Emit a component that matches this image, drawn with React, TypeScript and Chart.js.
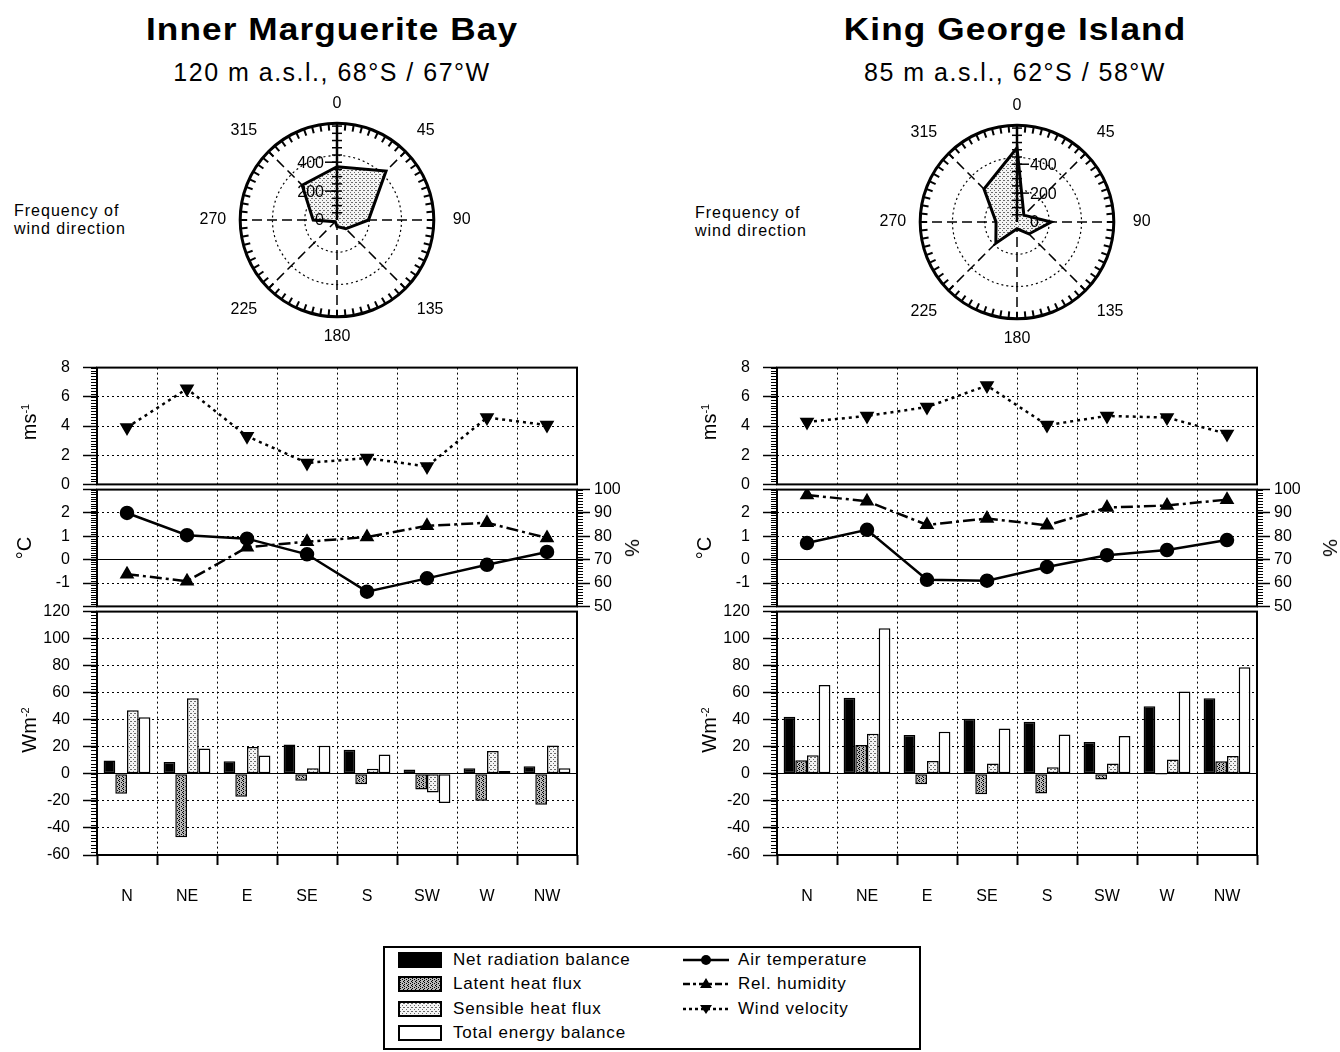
import React, { useEffect, useRef } from 'react';
import { Chart, registerables } from 'chart.js';

Chart.register(...registerables);

const FONT = "'Liberation Sans', Arial, Helvetica, sans-serif";
Chart.defaults.font.family = FONT;
Chart.defaults.font.size = 16;
Chart.defaults.color = '#000';

// ---------- data ----------
const directions = ['N', 'NE', 'E', 'SE', 'S', 'SW', 'W', 'NW'];
const radarLabels = ['0', '45', '90', '135', '180', '225', '270', '315'];
const radarTickLabels = [0, 200, 400];
const radarMax = 670;

// Inner Marguerite Bay
const imbFreq = [369, 480, 218, 86, 45, 17, 165, 341];
const imbWind = [3.9, 6.55, 3.3, 1.47, 1.8, 1.23, 4.58, 4.06];
const imbTemp = [2.0, 1.05, 0.9, 0.23, -1.37, -0.8, -0.22, 0.33];
const imbHum = [63.8, 60.8, 75.3, 77.7, 79.7, 84.5, 85.8, 79.3];
const imbNet = [9.8, 8.8, 9.3, 21.8, 17.9, 3.2, 4.2, 5.6];
const imbLatent = [-14.7, -46.8, -16.9, -5.1, -7.6, -11.5, -19.8, -22.8];
const imbSensible = [47, 56, 19.8, 4.2, 3.7, -13.7, 16.9, 21];
const imbTotal = [41.9, 18.8, 13.5, 20.8, 14.4, -21.5, 2.2, 4.2];

// King George Island
const kgiFreq = [514, 67, 237, 117, 47, 207, 145, 323];
const kgiWind = [4.28, 4.69, 5.3, 6.77, 4.06, 4.69, 4.58, 3.46];
const kgiTemp = [0.71, 1.28, -0.86, -0.9, -0.31, 0.19, 0.41, 0.84];
const kgiHum = [97.7, 95, 84.9, 87.6, 84.7, 92.3, 93.2, 95.7];
const kgiNet = [42.2, 56.2, 28.7, 40.7, 38.5, 23.6, 50, 56];
const kgiLatent = [10, 21.3, -7.6, -15, -14.5, -4.2, -0.7, 9.3];
const kgiSensible = [13.7, 29.7, 9.6, 7.6, 4.9, 7.6, 10.6, 13.2];
const kgiTotal = [65.8, 107.7, 31.2, 33.6, 29.2, 28, 60.9, 78.8];

const barLegendLabels = ['Net radiation balance', 'Latent heat flux', 'Sensible heat flux', 'Total energy balance'];
const lineLegendLabels = ['Air temperature', 'Rel. humidity', 'Wind velocity'];

// ---------- patterns ----------
let tiles: Record<string, HTMLCanvasElement> | null = null;
function getTiles() {
  if (!tiles) {
    const mk = (bg: string, dot: string, pts: number[][]) => {
      const c = document.createElement('canvas');
      c.width = 4;
      c.height = 4;
      const g = c.getContext('2d')!;
      g.fillStyle = bg;
      g.fillRect(0, 0, 4, 4);
      g.fillStyle = dot;
      pts.forEach(([x, y]) => g.fillRect(x, y, 1, 1));
      return c;
    };
    tiles = {
      latent: mk('#b8b8b8', '#000', [[0, 0], [2, 1], [0, 2], [3, 3]]),
      sensible: mk('#f4f4f4', '#6a6a6a', [[0, 0], [2, 2], [3, 0]]),
    };
  }
  return tiles;
}
function pattern(kind: string): any {
  const ctx = document.createElement('canvas').getContext('2d')!;
  return ctx.createPattern(getTiles()[kind], 'repeat');
}
function tileUrl(kind: string) {
  return getTiles()[kind].toDataURL();
}

// ---------- plugins ----------
const framePlugin = {
  id: 'frame',
  afterDraw(chart: any) {
    const { ctx, chartArea: a } = chart;
    ctx.save();
    ctx.strokeStyle = '#000';
    ctx.lineWidth = 2;
    ctx.setLineDash([]);
    ctx.strokeRect(a.left, a.top, a.right - a.left, a.bottom - a.top);
    ctx.restore();
  },
};

const minorTicksPlugin = {
  id: 'minorTicks',
  afterDraw(chart: any, _args: any, opts: any) {
    const ctx = chart.ctx;
    const steps = (opts && opts.steps) || {};
    ctx.save();
    ctx.strokeStyle = '#000';
    ctx.lineWidth = 1;
    ctx.setLineDash([]);
    Object.keys(steps).forEach((id) => {
      const s = chart.scales[id];
      if (!s) return;
      const step = steps[id];
      const left = s.position === 'left';
      const x0 = left ? s.right : s.left;
      const dir = left ? -1 : 1;
      const n = Math.round((s.max - s.min) / step);
      for (let i = 0; i <= n; i++) {
        const y = Math.round(s.getPixelForValue(s.min + i * step)) + 0.5;
        ctx.beginPath();
        ctx.moveTo(x0, y);
        ctx.lineTo(x0 + dir * 6, y);
        ctx.stroke();
      }
    });
    ctx.restore();
  },
};

const radarDecoPlugin = {
  id: 'radarDeco',
  afterDatasetsDraw(chart: any, _args: any, opts: any) {
    const s = chart.scales.r;
    const ctx = chart.ctx;
    const cx = s.xCenter;
    const cy = s.yCenter;
    const R = s.getDistanceFromCenterForValue(s.max);
    ctx.save();
    ctx.strokeStyle = '#000';
    ctx.setLineDash([]);
    ctx.lineWidth = 2;
    for (let a = 0; a < 360; a += 5) {
      const t = ((a - 90) * Math.PI) / 180;
      ctx.beginPath();
      ctx.moveTo(cx + Math.cos(t) * (R - 7), cy + Math.sin(t) * (R - 7));
      ctx.lineTo(cx + Math.cos(t) * R, cy + Math.sin(t) * R);
      ctx.stroke();
    }
    // north ruler
    ctx.lineWidth = 2.5;
    ctx.beginPath();
    ctx.moveTo(cx, cy);
    ctx.lineTo(cx, cy - R);
    ctx.stroke();
    ctx.lineWidth = 1.5;
    for (let v = 50; v < s.max; v += 50) {
      const y = cy - s.getDistanceFromCenterForValue(v);
      ctx.beginPath();
      ctx.moveTo(cx - 5, y);
      ctx.lineTo(cx + 5, y);
      ctx.stroke();
    }
    const side = opts.side || -1;
    ctx.font = `16px ${FONT}`;
    ctx.fillStyle = '#000';
    ctx.textBaseline = 'middle';
    ctx.textAlign = side < 0 ? 'right' : 'left';
    (opts.labels || []).forEach((v: number) => {
      const y = cy - s.getDistanceFromCenterForValue(v);
      if (v > 0) {
        ctx.beginPath();
        ctx.moveTo(cx, y);
        ctx.lineTo(cx + side * 12, y);
        ctx.stroke();
      }
      ctx.fillText(String(v), cx + side * 13, y + 1);
    });
    ctx.restore();
  },
};

// ---------- scale helpers ----------
function xScale(showLabels: boolean) {
  return {
    type: 'category',
    labels: directions,
    offset: true,
    grid: {
      offset: true,
      color: '#000',
      lineWidth: 1,
      drawTicks: showLabels,
      tickLength: 10,
      tickWidth: 2,
      tickColor: '#000',
      tickBorderDash: [],
    },
    border: { display: false, dash: [2, 3] },
    ticks: { display: showLabels, padding: 22, font: { size: 16 }, color: '#000', maxRotation: 0, autoSkip: false },
    afterFit: (s: any) => {
      s.height = showLabels ? 60 : 0;
    },
  };
}

function yLeft(min: number, max: number, step: number, show?: (v: number) => boolean) {
  return {
    type: 'linear',
    position: 'left',
    min,
    max,
    ticks: {
      stepSize: step,
      padding: 13,
      font: { size: 16 },
      color: '#000',
      callback: (v: any) => (show && !show(Number(v)) ? '' : String(v)),
    },
    grid: { color: '#000', lineWidth: 1, tickLength: 14, tickWidth: 1.5, tickColor: '#000', tickBorderDash: [] },
    border: { display: false, dash: (c: any) => (c.tick && c.tick.value === 0 ? [] : [2, 3]) },
    afterFit: (s: any) => {
      s.width = 90;
    },
  };
}

const basePlugins = { legend: { display: false }, tooltip: { enabled: false } };

// ---------- chart canvas ----------
function ChartBox({ left, top, width, height, build }: any) {
  const ref = useRef<HTMLCanvasElement>(null);
  useEffect(() => {
    const chart = new Chart(ref.current as HTMLCanvasElement, build());
    return () => chart.destroy();
  }, []);
  return (
    <canvas
      ref={ref}
      width={width}
      height={height}
      style={{ position: 'absolute', left, top, width, height }}
    />
  );
}

interface SideData {
  freq: number[];
  wind: number[];
  temp: number[];
  hum: number[];
  net: number[];
  latent: number[];
  sensible: number[];
  total: number[];
}

const rot: React.CSSProperties = {
  position: 'absolute',
  transform: 'translate(-50%, -50%) rotate(-90deg)',
  whiteSpace: 'nowrap',
  fontSize: 20,
  lineHeight: '22px',
};

const pointLabelPadding = [10, 16, 19, 16, 10, 16, 14, 16];

function Side({
  PL,
  titleX,
  title,
  subtitle,
  radarCx,
  radarCy,
  tickSide,
  freqX,
  freqY,
  axisX,
  pctX,
  d,
}: {
  PL: number;
  titleX: number;
  title: string;
  subtitle: string;
  radarCx: number;
  radarCy: number;
  tickSide: number;
  freqX: number;
  freqY: number;
  axisX: number;
  pctX: number;
  d: SideData;
}) {
  const W = 640;
  const cl = PL - 90;
  const buildRadar = () => ({
    type: 'radar',
    data: {
      labels: radarLabels,
      datasets: [
        {
          data: d.freq,
          fill: true,
          backgroundColor: pattern('sensible'),
          borderColor: '#000',
          borderWidth: 3,
          pointRadius: 0,
          tension: 0,
        },
      ],
    },
    options: {
      responsive: false,
      animation: false,
      layout: { padding: 0 },
      plugins: { ...basePlugins, radarDeco: { side: tickSide, labels: radarTickLabels } },
      scales: {
        r: {
          min: 0,
          max: radarMax,
          startAngle: 0,
          ticks: { display: false },
          afterBuildTicks: (s: any) => {
            s.ticks = [0, 1, 2, 3].map((k) => ({ value: (radarMax * k) / 3 }));
          },
          grid: {
            circular: true,
            color: '#000',
            lineWidth: (c: any) => (c.tick && c.tick.value >= radarMax ? 3 : 1.2),
          },
          border: { dash: (c: any) => (c.tick && c.tick.value >= radarMax ? [] : [2, 3]) },
          angleLines: { color: '#000', lineWidth: 1.5, borderDash: [10, 5] },
          pointLabels: {
            font: { size: 16 },
            color: '#000',
            padding: (c: any) => pointLabelPadding[c.index] ?? 16,
          },
        },
      },
    },
    plugins: [radarDecoPlugin],
  });

  const buildWind = () => ({
    type: 'line',
    data: {
      labels: directions,
      datasets: [
        {
          data: d.wind,
          borderColor: '#000',
          borderWidth: 2.5,
          borderDash: [3, 4],
          pointStyle: 'triangle',
          rotation: 180,
          pointRadius: 6,
          pointBackgroundColor: '#000',
          pointBorderColor: '#000',
          tension: 0,
        },
      ],
    },
    options: {
      responsive: false,
      animation: false,
      layout: { padding: { top: 20, bottom: 20, left: 0, right: 70 } },
      plugins: { ...basePlugins, minorTicks: { steps: { y: 0.2 } } },
      scales: { x: xScale(false), y: yLeft(0, 8, 2) },
    },
    plugins: [minorTicksPlugin, framePlugin],
  });

  const buildTemp = () => ({
    type: 'line',
    data: {
      labels: directions,
      datasets: [
        {
          data: d.temp,
          yAxisID: 'y',
          borderColor: '#000',
          borderWidth: 2.5,
          pointStyle: 'circle',
          pointRadius: 6,
          pointBackgroundColor: '#000',
          pointBorderColor: '#000',
          tension: 0,
        },
        {
          data: d.hum,
          yAxisID: 'y2',
          borderColor: '#000',
          borderWidth: 2.5,
          borderDash: [12, 4, 3, 4],
          pointStyle: 'triangle',
          pointRadius: 6,
          pointBackgroundColor: '#000',
          pointBorderColor: '#000',
          tension: 0,
        },
      ],
    },
    options: {
      responsive: false,
      animation: false,
      layout: { padding: { top: 20, bottom: 20, left: 0, right: 0 } },
      plugins: { ...basePlugins, minorTicks: { steps: { y: 0.1, y2: 1.25 } } },
      scales: {
        x: xScale(false),
        y: yLeft(-2, 3, 1, (v) => v >= -1 && v <= 2),
        y2: {
          type: 'linear',
          position: 'right',
          min: 50,
          max: 100,
          ticks: { stepSize: 10, padding: 4, font: { size: 16 }, color: '#000' },
          grid: { drawOnChartArea: false, tickLength: 13, tickWidth: 1.5, tickColor: '#000', color: '#000' },
          border: { display: false },
          afterFit: (s: any) => {
            s.width = 70;
          },
        },
      },
    },
    plugins: [minorTicksPlugin, framePlugin],
  });

  const buildBars = () => ({
    type: 'bar',
    data: {
      labels: directions,
      datasets: [
        { label: barLegendLabels[0], data: d.net, backgroundColor: '#000' },
        { label: barLegendLabels[1], data: d.latent, backgroundColor: pattern('latent') },
        { label: barLegendLabels[2], data: d.sensible, backgroundColor: pattern('sensible') },
        { label: barLegendLabels[3], data: d.total, backgroundColor: '#fff' },
      ].map((ds) => ({ ...ds, borderColor: '#000', borderWidth: 1.5, borderSkipped: false })),
    },
    options: {
      responsive: false,
      animation: false,
      datasets: { bar: { categoryPercentage: 0.78, barPercentage: 1 } },
      layout: { padding: { top: 20, bottom: 0, left: 0, right: 70 } },
      plugins: { ...basePlugins, minorTicks: { steps: { y: 2.5 } } },
      scales: { x: xScale(true), y: yLeft(-60, 120, 20) },
    },
    plugins: [minorTicksPlugin, framePlugin],
  });

  return (
    <>
      <div
        style={{
          position: 'absolute',
          left: titleX - 300,
          top: 13,
          width: 600,
          textAlign: 'center',
          fontSize: 32,
          lineHeight: '32px',
          fontWeight: 'bold',
          letterSpacing: '1px',
          whiteSpace: 'nowrap',
          transform: 'scaleX(1.1)',
        }}
      >
        {title}
      </div>
      <div
        style={{
          position: 'absolute',
          left: titleX - 300,
          top: 60,
          width: 600,
          textAlign: 'center',
          fontSize: 25,
          lineHeight: '25px',
          letterSpacing: '1.5px',
          whiteSpace: 'nowrap',
        }}
      >
        {subtitle}
      </div>
      <div
        style={{
          position: 'absolute',
          left: freqX,
          top: freqY,
          fontSize: 16,
          lineHeight: '18px',
          letterSpacing: '1px',
          whiteSpace: 'nowrap',
        }}
      >
        Frequency of
        <br />
        wind direction
      </div>
      <ChartBox left={radarCx - 161} top={radarCy - 126} width={320} height={252} build={buildRadar} />
      <ChartBox left={cl} top={345} width={W} height={162} build={buildWind} />
      <ChartBox left={cl} top={467} width={W} height={162} build={buildTemp} />
      <ChartBox left={cl} top={589} width={W} height={326} build={buildBars} />
      <div style={{ ...rot, left: axisX, top: 422 }}>
        ms<sup style={{ fontSize: 11 }}>-1</sup>
      </div>
      <div style={{ ...rot, left: axisX - 3, top: 548 }}>°C</div>
      <div style={{ ...rot, left: axisX, top: 730 }}>
        Wm<sup style={{ fontSize: 11 }}>-2</sup>
      </div>
      <div style={{ ...rot, left: pctX, top: 548, transform: 'translate(-50%, -50%) rotate(90deg)' }}>%</div>
    </>
  );
}

function Legend() {
  const rowsY = [960, 984, 1009, 1033];
  const swatch = (i: number): React.CSSProperties => {
    const base: React.CSSProperties = {
      position: 'absolute',
      left: 398,
      top: rowsY[i] - 8,
      width: 44,
      height: 16,
      border: '2px solid #000',
      boxSizing: 'border-box',
    };
    if (i === 0) return { ...base, background: '#000' };
    if (i === 1) return { ...base, backgroundImage: `url(${tileUrl('latent')})` };
    if (i === 2) return { ...base, backgroundImage: `url(${tileUrl('sensible')})` };
    return { ...base, background: '#fff' };
  };
  const text = (x: number, y: number): React.CSSProperties => ({
    position: 'absolute',
    left: x,
    top: y - 10,
    fontSize: 17,
    lineHeight: '20px',
    letterSpacing: '0.8px',
    whiteSpace: 'nowrap',
  });
  const symbols = [
    <svg width={46} height={16}>
      <line x1={0} y1={8} x2={46} y2={8} stroke="#000" strokeWidth={2.5} />
      <circle cx={23} cy={8} r={5} fill="#000" />
    </svg>,
    <svg width={46} height={16}>
      <line x1={0} y1={8} x2={46} y2={8} stroke="#000" strokeWidth={2.5} strokeDasharray="7 3 3 3" />
      <polygon points="23,2 29,12 17,12" fill="#000" />
    </svg>,
    <svg width={46} height={16}>
      <line x1={0} y1={8} x2={46} y2={8} stroke="#000" strokeWidth={2.5} strokeDasharray="3 3" />
      <polygon points="23,13 29,4 17,4" fill="#000" />
    </svg>,
  ];
  return (
    <>
      <div
        style={{
          position: 'absolute',
          left: 383,
          top: 946,
          width: 538,
          height: 104,
          border: '2px solid #000',
          boxSizing: 'border-box',
        }}
      />
      {barLegendLabels.map((l, i) => (
        <React.Fragment key={l}>
          <div style={swatch(i)} />
          <div style={text(453, rowsY[i])}>{l}</div>
        </React.Fragment>
      ))}
      {lineLegendLabels.map((l, i) => (
        <React.Fragment key={l}>
          <div style={{ position: 'absolute', left: 683, top: rowsY[i] - 8, width: 46, height: 16 }}>{symbols[i]}</div>
          <div style={text(738, rowsY[i])}>{l}</div>
        </React.Fragment>
      ))}
    </>
  );
}

export default function App() {
  return (
    <div
      style={{
        position: 'absolute',
        left: 0,
        top: 0,
        width: 1340,
        height: 1052,
        background: '#fff',
        fontFamily: FONT,
        color: '#000',
        overflow: 'hidden',
      }}
    >
      <Side
        PL={97}
        titleX={332}
        title="Inner Marguerite Bay"
        subtitle="120 m a.s.l., 68°S / 67°W"
        radarCx={337}
        radarCy={220}
        tickSide={-1}
        freqX={14}
        freqY={202}
        axisX={27}
        pctX={632}
        d={{
          freq: imbFreq,
          wind: imbWind,
          temp: imbTemp,
          hum: imbHum,
          net: imbNet,
          latent: imbLatent,
          sensible: imbSensible,
          total: imbTotal,
        }}
      />
      <Side
        PL={777}
        titleX={1015}
        title="King George Island"
        subtitle="85 m a.s.l., 62°S / 58°W"
        radarCx={1017}
        radarCy={222}
        tickSide={1}
        freqX={695}
        freqY={204}
        axisX={707}
        pctX={1330}
        d={{
          freq: kgiFreq,
          wind: kgiWind,
          temp: kgiTemp,
          hum: kgiHum,
          net: kgiNet,
          latent: kgiLatent,
          sensible: kgiSensible,
          total: kgiTotal,
        }}
      />
      <Legend />
    </div>
  );
}
